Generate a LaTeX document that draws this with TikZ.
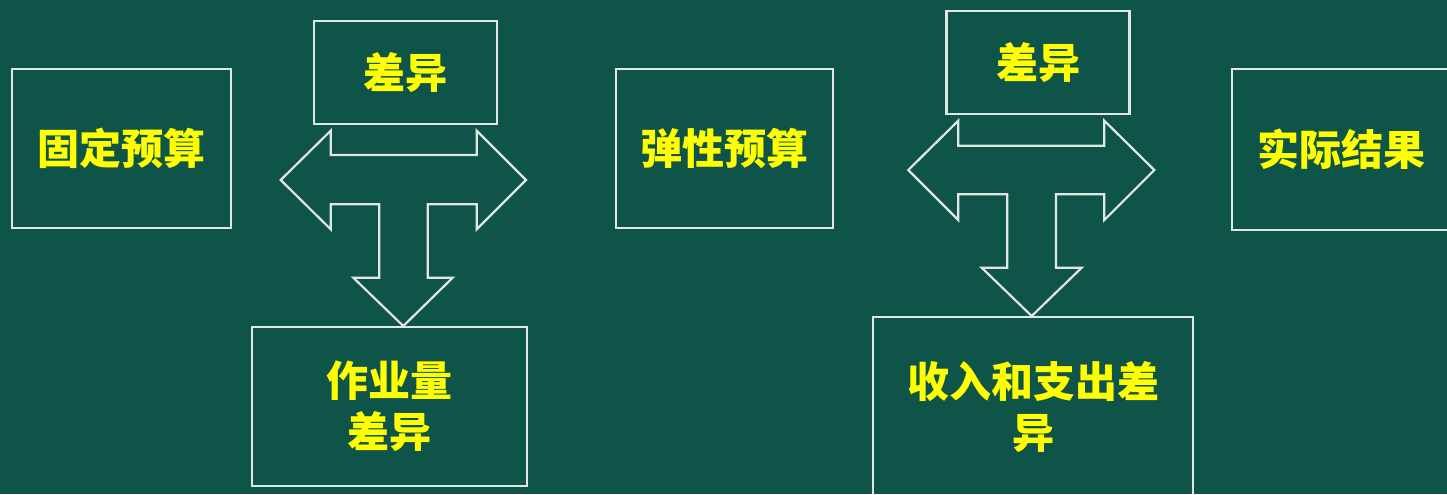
\documentclass[tikz,border=0pt]{standalone}
\usepackage{fontspec}
\newfontfamily\cjk{Noto Sans CJK SC}
\definecolor{board}{RGB}{14,84,72}
\definecolor{chalk}{RGB}{225,232,228}
\definecolor{txt}{RGB}{255,255,0}
\begin{document}
\begin{tikzpicture}[x=0.5pt,y=-0.5pt,
  box/.style={draw=chalk,line width=1.1pt,inner sep=0pt,align=center,
    text=txt,font=\cjk\bfseries\fontsize{21}{25.5}\selectfont},
  tarrow/.style={draw=chalk,line width=1.1pt,line join=miter}]
\fill[board] (0,0) rectangle (1447,494);
\useasboundingbox (0,0) rectangle (1447,494);
\clip (0,0) rectangle (1447,494);
% boxes
\node[box,minimum width=109.5pt,minimum height=79.5pt] (fixed) at (121.5,148.5) {固定预算};
\node[box,minimum width=91.5pt,minimum height=51.5pt] (diff1) at (405.5,72.5) {差异};
\node[box,minimum width=137.5pt,minimum height=79.5pt] (vol) at (389.5,406.5) {作业量\\差异};
\node[box,minimum width=108.5pt,minimum height=79.5pt] (flex) at (724.5,148.5) {弹性预算};
\node[box,minimum width=91.5pt,minimum height=51.5pt] (diff2) at (1038,62.5) {差异};
\node[box,minimum width=160pt,minimum height=90pt] (rev) at (1033,407) {收入和支出差\\异};
\node[box,minimum width=109pt,minimum height=80.5pt] (act) at (1341,149.5) {实际结果};
% T-arrow 1
\draw[tarrow] (280.7,180) -- (330.7,130.7) -- (330.7,155) -- (476.7,155) -- (476.7,130.7)
  -- (526,180) -- (476.7,229.3) -- (476.7,204.3) -- (427.7,204.3) -- (427.7,277.7)
  -- (452.7,277.7) -- (403.3,326) -- (353.3,277.7) -- (379.3,277.7) -- (379.3,204.3)
  -- (330.7,204.3) -- (330.7,229.3) -- cycle;
% T-arrow 2
\draw[tarrow] (908.3,170) -- (958.3,120.7) -- (958.3,145.7) -- (1104.3,145.7) -- (1104.3,120.7)
  -- (1154.3,170) -- (1104.3,220) -- (1104.3,194.3) -- (1056,194.3) -- (1056,267.7)
  -- (1081.7,267.7) -- (1031.7,316) -- (981.7,267.7) -- (1007.3,267.7) -- (1007.3,194.3)
  -- (958.3,194.3) -- (958.3,220) -- cycle;
\end{tikzpicture}
\end{document}
